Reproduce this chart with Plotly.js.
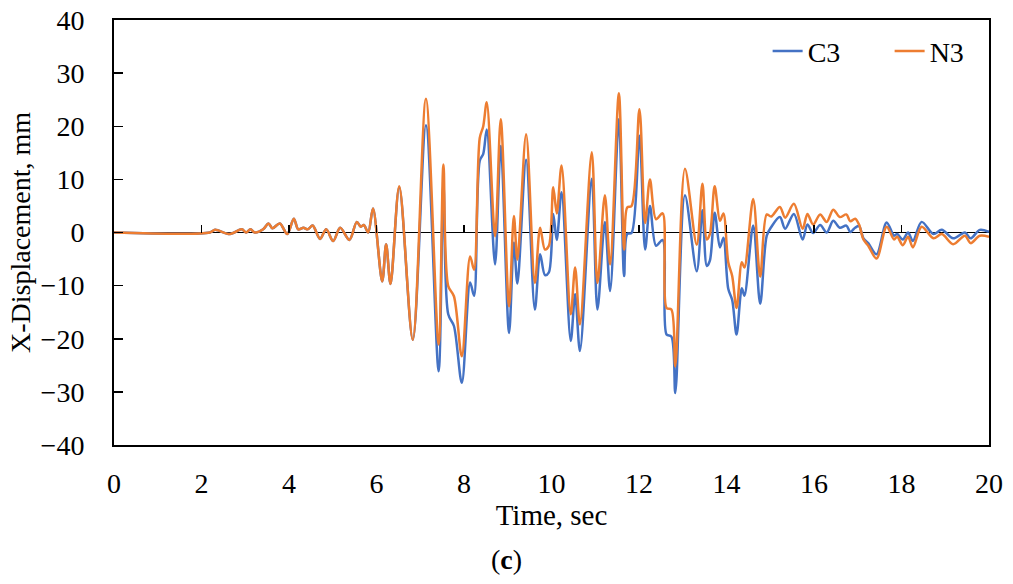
<!DOCTYPE html>
<html>
<head>
<meta charset="utf-8">
<script src="https://cdn.plot.ly/plotly-3.0.1.min.js"></script>
<style>
  html, body { margin: 0; padding: 0; background: #ffffff; }
  #chart { width: 1013px; height: 584px; }
</style>
</head>
<body>
<div id="chart"></div>
<script>
// time history of X-displacement
const timeSec = [
    0, 2.19, 2.31, 2.65, 2.92, 3.02, 3.12, 3.22, 3.41, 3.53, 3.62, 3.79, 3.96, 4.11, 4.21, 4.33, 4.43,
    4.54, 4.71, 4.85, 5.01, 5.17, 5.38, 5.55, 5.64, 5.71, 5.81, 5.92, 6.13, 6.22, 6.32, 6.52, 6.83,
    7.13, 7.42, 7.53, 7.64, 7.77, 7.95, 8.14, 8.23, 8.36, 8.44, 8.52, 8.71, 8.84, 9.03, 9.14, 9.22,
    9.42, 9.62, 9.74, 9.85, 9.94, 10.04, 10.12, 10.23, 10.44, 10.54, 10.65, 10.92, 11.05, 11.22, 11.34,
    11.54, 11.66, 11.73, 11.83, 12.01, 12.14, 12.25, 12.39, 12.54, 12.63, 12.74, 12.83, 13.05, 13.32,
    13.45, 13.55, 13.62, 13.73, 13.85, 13.93, 14.04, 14.13, 14.23, 14.35, 14.41, 14.61, 14.77, 14.92,
    15.02, 15.22, 15.34, 15.54, 15.74, 15.85, 15.98, 16.14, 16.29, 16.44, 16.59, 16.74, 16.83, 16.94,
    17.03, 17.13, 17.24, 17.43, 17.66, 17.83, 17.9, 18.03, 18.15, 18.26, 18.46, 18.73, 18.92, 19.18,
    19.45, 19.58, 19.79, 20
];
const dispC3 = [
    0, 0, 0.5, -0.3, 0.6, 0, 0.6, 0, 0.6, 1.7, 0.8, 1.7, -0.3, 2.6, 0.6, 0.9, 0.6,
    1.3, -1.2, 0.6, -1.6, 0.9, -1.4, 2.0, 1.1, 1.4, 0, 4.5, -9.2, -2.2, -9.7, 8.5, -20.2,
    20.2, -26.1, 9.0, -15.4, -17.6, -28.3, -9.4, -11.9, 13.5, 14.8, 19.4, -6.0, 16.3, -18.9, -1.9, -9.6,
    13.7, -14.5, -4.1, -8.0, -7.5, 3.5, -1.4, 7.6, -20.4, -11.6, -22.3, 10.1, -14.5, 2.0, -11.0,
    21.3, -8.2, -0.3, -0.1, 18.2, -3.2, 5.0, -2.5, -1.4, -19.2, -19.6, -30.2, 7.0, -7.3,
    4.2, -6.3, -5.3, 3.7, -2.8, -1.0, -10.6, -12.7, -19.2, -10.5, -11.9, 1.3, -13.4, -0.6,
    1.0, 2.9, 0.7, 3.5, -1.3, 1.5, -0.1, 1.4, 0.0, 2.2, 0.9, 1.3, 0.1, 0.9,
    1.2, -1.1, -2.0, -4.1, 1.9, -0.6, -0.3, -1.3, 0, -1.6, 2.0, -0.3, 0.5, -1.1,
    0, -1.1, 0.5, 0.1
];
const dispN3 = [
    0, 0, 0.5, -0.3, 0.6, 0, 0.6, 0, 0.6, 1.7, 0.8, 1.7, -0.3, 2.6, 0.6, 0.9, 0.6,
    1.3, -1.2, 0.6, -1.6, 0.9, -1.4, 2.0, 1.1, 1.4, 0, 4.5, -9.2, -2.2, -9.7, 8.7, -20.2,
    25.2, -21.1, 12.8, -10.1, -12.0, -23.3, -4.5, -7.0, 17.8, 20.0, 24.5, -0.7, 21.3, -13.9, 3.1, -5.1,
    18.5, -9.5, 0.9, -3.2, -2.5, 8.5, 3.6, 12.6, -15.4, -6.6, -17.3, 15.1, -9.5, 7.0, -6.0,
    26.2, -3.2, 4.7, 5.0, 23.2, 1.8, 10.0, 2.5, 3.6, -14.2, -14.5, -25.2, 12.0, -2.3,
    9.2, -1.3, -0.3, 8.7, 2.2, 3.6, -5.6, -8.2, -14.2, -5.6, -6.6, 6.3, -8.3, 3.4,
    3.0, 4.8, 2.8, 5.4, 0.7, 3.5, 1.5, 3.4, 2.0, 4.3, 2.9, 3.4, 2.1, 2.6,
    1.5, -1.3, -2.5, -4.9, 1.1, -1.3, -0.8, -2.4, -0.8, -2.8, 1.1, -1.1, -0.3, -2.2,
    -0.6, -2.0, -0.6, -0.8
];
const seriesNames = ['C3', 'N3'];
const seriesColors = ['#4472C4', '#ED7D31'];

const fontFam = '"Liberation Serif", "Times New Roman", serif';

function makeTrace(name, y, color, xref) {
    return {
        x: timeSec,
        y: y,
        name: name,
        type: 'scatter',
        mode: 'lines',
        xaxis: xref,
        line: { color: color, width: 2.5, shape: 'spline', smoothing: 0.9 },
        hoverinfo: 'x+y+name'
    };
}

// N3 sits on the overlaying axis so it is drawn above C3, as in the figure
const data = [
    makeTrace(seriesNames[0], dispC3, seriesColors[0], 'x'),
    makeTrace(seriesNames[1], dispN3, seriesColors[1], 'x2')
];

const layout = {
    width: 1013,
    height: 584,
    margin: { l: 114, r: 24, t: 20, b: 139, autoexpand: false },
    paper_bgcolor: '#ffffff',
    plot_bgcolor: '#ffffff',
    font: { family: fontFam, size: 28, color: '#000000' },
    showlegend: true,
    legend: {
        orientation: 'h',
        x: 0.747,
        xanchor: 'left',
        y: 0.985,
        yanchor: 'top',
        entrywidth: 77,
        bgcolor: 'rgba(0,0,0,0)',
        font: { family: fontFam, size: 28, color: '#000000' }
    },
    xaxis: {
        range: [0, 20],
        dtick: 2,
        showgrid: false,
        zeroline: false,
        showline: true,
        mirror: true,
        linecolor: '#000000',
        linewidth: 2,
        ticks: '',
        ticklabelstandoff: 12,
        title: { text: 'Time, sec', font: { family: fontFam, size: 29 }, standoff: 2 }
    },
    // tick marks sitting on the zero line
    xaxis2: {
        range: [0, 20],
        dtick: 2,
        overlaying: 'x',
        anchor: 'free',
        position: 0.5,
        side: 'bottom',
        showgrid: false,
        zeroline: false,
        showline: false,
        showticklabels: false,
        ticks: 'inside',
        ticklen: 8,
        tickwidth: 1.5,
        tickcolor: '#000000'
    },
    yaxis: {
        range: [-40, 40],
        dtick: 10,
        showgrid: false,
        zeroline: true,
        zerolinecolor: '#000000',
        zerolinewidth: 1.5,
        showline: true,
        mirror: true,
        linecolor: '#000000',
        linewidth: 2,
        ticks: 'inside',
        ticklen: 9,
        tickwidth: 1.5,
        tickcolor: '#000000',
        ticklabelstandoff: 22,
        title: { text: 'X-Displacement, mm', font: { family: fontFam, size: 28 }, standoff: 2 }
    },
    annotations: [{
        text: '(<b>c</b>)',
        xref: 'paper',
        yref: 'paper',
        x: 0.448,
        y: -0.27,
        xanchor: 'center',
        yanchor: 'middle',
        showarrow: false,
        font: { family: fontFam, size: 28, color: '#000000' }
    }]
};

Plotly.newPlot('chart', data, layout, { staticPlot: true });
</script>
</body>
</html>
